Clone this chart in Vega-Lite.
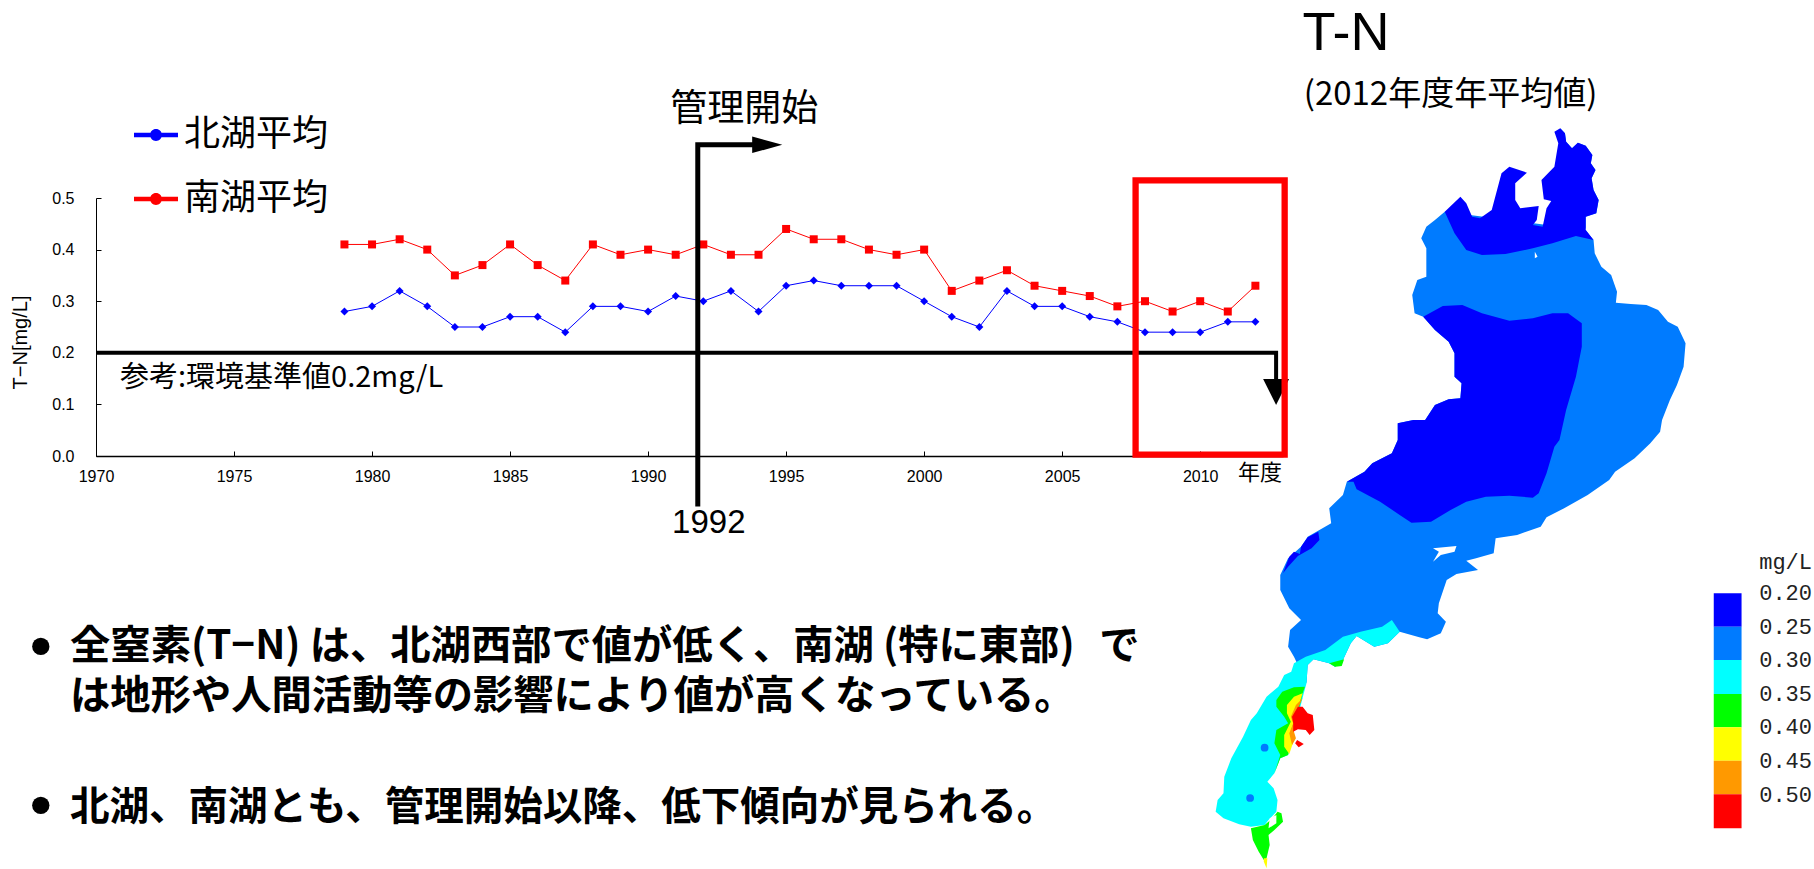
{"$schema":"https://vega.github.io/schema/vega-lite/v6.json","width":1187,"height":258,"autosize":"none","padding":{"left":96,"top":198,"right":531,"bottom":413},"background":"white","view":{"stroke":null},
"config":{"font":"Noto Sans CJK JP"},
"datasets":{
"series":[
{"year":1979,"value":0.28,"lake":"北湖平均"},{"year":1980,"value":0.29,"lake":"北湖平均"},{"year":1981,"value":0.32,"lake":"北湖平均"},{"year":1982,"value":0.29,"lake":"北湖平均"},{"year":1983,"value":0.25,"lake":"北湖平均"},{"year":1984,"value":0.25,"lake":"北湖平均"},{"year":1985,"value":0.27,"lake":"北湖平均"},{"year":1986,"value":0.27,"lake":"北湖平均"},{"year":1987,"value":0.24,"lake":"北湖平均"},{"year":1988,"value":0.29,"lake":"北湖平均"},{"year":1989,"value":0.29,"lake":"北湖平均"},{"year":1990,"value":0.28,"lake":"北湖平均"},{"year":1991,"value":0.31,"lake":"北湖平均"},{"year":1992,"value":0.30,"lake":"北湖平均"},{"year":1993,"value":0.32,"lake":"北湖平均"},{"year":1994,"value":0.28,"lake":"北湖平均"},{"year":1995,"value":0.33,"lake":"北湖平均"},{"year":1996,"value":0.34,"lake":"北湖平均"},{"year":1997,"value":0.33,"lake":"北湖平均"},{"year":1998,"value":0.33,"lake":"北湖平均"},{"year":1999,"value":0.33,"lake":"北湖平均"},{"year":2000,"value":0.30,"lake":"北湖平均"},{"year":2001,"value":0.27,"lake":"北湖平均"},{"year":2002,"value":0.25,"lake":"北湖平均"},{"year":2003,"value":0.32,"lake":"北湖平均"},{"year":2004,"value":0.29,"lake":"北湖平均"},{"year":2005,"value":0.29,"lake":"北湖平均"},{"year":2006,"value":0.27,"lake":"北湖平均"},{"year":2007,"value":0.26,"lake":"北湖平均"},{"year":2008,"value":0.24,"lake":"北湖平均"},{"year":2009,"value":0.24,"lake":"北湖平均"},{"year":2010,"value":0.24,"lake":"北湖平均"},{"year":2011,"value":0.26,"lake":"北湖平均"},{"year":2012,"value":0.26,"lake":"北湖平均"},
{"year":1979,"value":0.41,"lake":"南湖平均"},{"year":1980,"value":0.41,"lake":"南湖平均"},{"year":1981,"value":0.42,"lake":"南湖平均"},{"year":1982,"value":0.40,"lake":"南湖平均"},{"year":1983,"value":0.35,"lake":"南湖平均"},{"year":1984,"value":0.37,"lake":"南湖平均"},{"year":1985,"value":0.41,"lake":"南湖平均"},{"year":1986,"value":0.37,"lake":"南湖平均"},{"year":1987,"value":0.34,"lake":"南湖平均"},{"year":1988,"value":0.41,"lake":"南湖平均"},{"year":1989,"value":0.39,"lake":"南湖平均"},{"year":1990,"value":0.40,"lake":"南湖平均"},{"year":1991,"value":0.39,"lake":"南湖平均"},{"year":1992,"value":0.41,"lake":"南湖平均"},{"year":1993,"value":0.39,"lake":"南湖平均"},{"year":1994,"value":0.39,"lake":"南湖平均"},{"year":1995,"value":0.44,"lake":"南湖平均"},{"year":1996,"value":0.42,"lake":"南湖平均"},{"year":1997,"value":0.42,"lake":"南湖平均"},{"year":1998,"value":0.40,"lake":"南湖平均"},{"year":1999,"value":0.39,"lake":"南湖平均"},{"year":2000,"value":0.40,"lake":"南湖平均"},{"year":2001,"value":0.32,"lake":"南湖平均"},{"year":2002,"value":0.34,"lake":"南湖平均"},{"year":2003,"value":0.36,"lake":"南湖平均"},{"year":2004,"value":0.33,"lake":"南湖平均"},{"year":2005,"value":0.32,"lake":"南湖平均"},{"year":2006,"value":0.31,"lake":"南湖平均"},{"year":2007,"value":0.29,"lake":"南湖平均"},{"year":2008,"value":0.30,"lake":"南湖平均"},{"year":2009,"value":0.28,"lake":"南湖平均"},{"year":2010,"value":0.30,"lake":"南湖平均"},{"year":2011,"value":0.28,"lake":"南湖平均"},{"year":2012,"value":0.33,"lake":"南湖平均"}],
"map":[
{"p":"a","b":"0.25","u":920,"v":385},{"p":"a","b":"0.25","u":932,"v":400},{"p":"a","b":"0.25","u":935,"v":425},{"p":"a","b":"0.25","u":950,"v":445},{"p":"a","b":"0.25","u":965,"v":428},{"p":"a","b":"0.25","u":985,"v":437},{"p":"a","b":"0.25","u":1002,"v":465},{"p":"a","b":"0.25","u":998,"v":490},{"p":"a","b":"0.25","u":1010,"v":510},{"p":"a","b":"0.25","u":1000,"v":535},{"p":"a","b":"0.25","u":1005,"v":570},{"p":"a","b":"0.25","u":1018,"v":600},{"p":"a","b":"0.25","u":1012,"v":640},{"p":"a","b":"0.25","u":985,"v":650},{"p":"a","b":"0.25","u":985,"v":690},{"p":"a","b":"0.25","u":1005,"v":720},{"p":"a","b":"0.25","u":1008,"v":760},{"p":"a","b":"0.25","u":1025,"v":800},{"p":"a","b":"0.25","u":1050,"v":825},{"p":"a","b":"0.25","u":1065,"v":875},{"p":"a","b":"0.25","u":1062,"v":908},{"p":"a","b":"0.25","u":1100,"v":912},{"p":"a","b":"0.25","u":1140,"v":915},{"p":"a","b":"0.25","u":1170,"v":930},{"p":"a","b":"0.25","u":1195,"v":965},{"p":"a","b":"0.25","u":1220,"v":980},{"p":"a","b":"0.25","u":1240,"v":1030},{"p":"a","b":"0.25","u":1235,"v":1100},{"p":"a","b":"0.25","u":1218,"v":1155},{"p":"a","b":"0.25","u":1200,"v":1200},{"p":"a","b":"0.25","u":1180,"v":1260},{"p":"a","b":"0.25","u":1175,"v":1295},{"p":"a","b":"0.25","u":1150,"v":1330},{"p":"a","b":"0.25","u":1110,"v":1375},{"p":"a","b":"0.25","u":1060,"v":1415},{"p":"a","b":"0.25","u":1045,"v":1440},{"p":"a","b":"0.25","u":990,"v":1485},{"p":"a","b":"0.25","u":930,"v":1525},{"p":"a","b":"0.25","u":885,"v":1552},{"p":"a","b":"0.25","u":870,"v":1580},{"p":"a","b":"0.25","u":810,"v":1605},{"p":"a","b":"0.25","u":755,"v":1615},{"p":"a","b":"0.25","u":750,"v":1660},{"p":"a","b":"0.25","u":705,"v":1675},{"p":"a","b":"0.25","u":680,"v":1682},{"p":"a","b":"0.25","u":710,"v":1710},{"p":"a","b":"0.25","u":655,"v":1722},{"p":"a","b":"0.25","u":630,"v":1740},{"p":"a","b":"0.25","u":610,"v":1810},{"p":"a","b":"0.25","u":607,"v":1840},{"p":"a","b":"0.25","u":628,"v":1865},{"p":"a","b":"0.25","u":615,"v":1900},{"p":"a","b":"0.25","u":580,"v":1918},{"p":"a","b":"0.25","u":560,"v":1912},{"p":"a","b":"0.25","u":510,"v":1895},{"p":"a","b":"0.25","u":480,"v":1930},{"p":"a","b":"0.25","u":445,"v":1940},{"p":"a","b":"0.25","u":400,"v":1908},{"p":"a","b":"0.25","u":385,"v":1930},{"p":"a","b":"0.25","u":365,"v":1980},{"p":"a","b":"0.25","u":345,"v":2000},{"p":"a","b":"0.25","u":330,"v":1990},{"p":"a","b":"0.25","u":290,"v":1978},{"p":"a","b":"0.25","u":275,"v":1995},{"p":"a","b":"0.25","u":272,"v":2050},{"p":"a","b":"0.25","u":240,"v":1970},{"p":"a","b":"0.25","u":225,"v":1940},{"p":"a","b":"0.25","u":230,"v":1890},{"p":"a","b":"0.25","u":258,"v":1860},{"p":"a","b":"0.25","u":228,"v":1825},{"p":"a","b":"0.25","u":205,"v":1770},{"p":"a","b":"0.25","u":205,"v":1725},{"p":"a","b":"0.25","u":225,"v":1675},{"p":"a","b":"0.25","u":258,"v":1640},{"p":"a","b":"0.25","u":275,"v":1610},{"p":"a","b":"0.25","u":335,"v":1570},{"p":"a","b":"0.25","u":330,"v":1525},{"p":"a","b":"0.25","u":365,"v":1485},{"p":"a","b":"0.25","u":375,"v":1445},{"p":"a","b":"0.25","u":420,"v":1415},{"p":"a","b":"0.25","u":440,"v":1390},{"p":"a","b":"0.25","u":490,"v":1360},{"p":"a","b":"0.25","u":505,"v":1320},{"p":"a","b":"0.25","u":505,"v":1270},{"p":"a","b":"0.25","u":545,"v":1260},{"p":"a","b":"0.25","u":575,"v":1260},{"p":"a","b":"0.25","u":600,"v":1215},{"p":"a","b":"0.25","u":635,"v":1198},{"p":"a","b":"0.25","u":665,"v":1195},{"p":"a","b":"0.25","u":668,"v":1150},{"p":"a","b":"0.25","u":650,"v":1130},{"p":"a","b":"0.25","u":650,"v":1060},{"p":"a","b":"0.25","u":635,"v":1025},{"p":"a","b":"0.25","u":600,"v":990},{"p":"a","b":"0.25","u":570,"v":950},{"p":"a","b":"0.25","u":548,"v":940},{"p":"a","b":"0.25","u":542,"v":885},{"p":"a","b":"0.25","u":555,"v":840},{"p":"a","b":"0.25","u":578,"v":830},{"p":"a","b":"0.25","u":578,"v":745},{"p":"a","b":"0.25","u":565,"v":715},{"p":"a","b":"0.25","u":578,"v":680},{"p":"a","b":"0.25","u":600,"v":660},{"p":"a","b":"0.25","u":625,"v":635},{"p":"a","b":"0.25","u":985,"v":690},
{"p":"b","b":"0.20","u":625,"v":635},{"p":"b","b":"0.20","u":665,"v":590},{"p":"b","b":"0.20","u":680,"v":610},{"p":"b","b":"0.20","u":695,"v":650},{"p":"b","b":"0.20","u":715,"v":655},{"p":"b","b":"0.20","u":745,"v":630},{"p":"b","b":"0.20","u":770,"v":520},{"p":"b","b":"0.20","u":790,"v":500},{"p":"b","b":"0.20","u":835,"v":518},{"p":"b","b":"0.20","u":805,"v":550},{"p":"b","b":"0.20","u":805,"v":600},{"p":"b","b":"0.20","u":818,"v":625},{"p":"b","b":"0.20","u":865,"v":618},{"p":"b","b":"0.20","u":860,"v":660},{"p":"b","b":"0.20","u":850,"v":675},{"p":"b","b":"0.20","u":875,"v":680},{"p":"b","b":"0.20","u":885,"v":625},{"p":"b","b":"0.20","u":897,"v":603},{"p":"b","b":"0.20","u":878,"v":598},{"p":"b","b":"0.20","u":872,"v":540},{"p":"b","b":"0.20","u":905,"v":500},{"p":"b","b":"0.20","u":910,"v":465},{"p":"b","b":"0.20","u":915,"v":430},{"p":"b","b":"0.20","u":905,"v":395},{"p":"b","b":"0.20","u":920,"v":385},{"p":"b","b":"0.20","u":932,"v":400},{"p":"b","b":"0.20","u":935,"v":425},{"p":"b","b":"0.20","u":950,"v":445},{"p":"b","b":"0.20","u":965,"v":428},{"p":"b","b":"0.20","u":985,"v":437},{"p":"b","b":"0.20","u":1002,"v":465},{"p":"b","b":"0.20","u":998,"v":490},{"p":"b","b":"0.20","u":1010,"v":510},{"p":"b","b":"0.20","u":1000,"v":535},{"p":"b","b":"0.20","u":1005,"v":570},{"p":"b","b":"0.20","u":1018,"v":600},{"p":"b","b":"0.20","u":1012,"v":640},{"p":"b","b":"0.20","u":985,"v":650},{"p":"b","b":"0.20","u":985,"v":690},{"p":"b","b":"0.20","u":1005,"v":720},{"p":"b","b":"0.20","u":960,"v":708},{"p":"b","b":"0.20","u":900,"v":730},{"p":"b","b":"0.20","u":850,"v":745},{"p":"b","b":"0.20","u":780,"v":762},{"p":"b","b":"0.20","u":720,"v":765},{"p":"b","b":"0.20","u":680,"v":750},{"p":"b","b":"0.20","u":650,"v":700},
{"p":"c","b":"0.20","u":570,"v":950},{"p":"c","b":"0.20","u":620,"v":918},{"p":"c","b":"0.20","u":670,"v":915},{"p":"c","b":"0.20","u":720,"v":940},{"p":"c","b":"0.20","u":790,"v":962},{"p":"c","b":"0.20","u":850,"v":955},{"p":"c","b":"0.20","u":900,"v":940},{"p":"c","b":"0.20","u":940,"v":940},{"p":"c","b":"0.20","u":975,"v":970},{"p":"c","b":"0.20","u":975,"v":1040},{"p":"c","b":"0.20","u":960,"v":1130},{"p":"c","b":"0.20","u":935,"v":1230},{"p":"c","b":"0.20","u":918,"v":1320},{"p":"c","b":"0.20","u":905,"v":1340},{"p":"c","b":"0.20","u":885,"v":1420},{"p":"c","b":"0.20","u":865,"v":1480},{"p":"c","b":"0.20","u":850,"v":1493},{"p":"c","b":"0.20","u":790,"v":1487},{"p":"c","b":"0.20","u":730,"v":1490},{"p":"c","b":"0.20","u":680,"v":1505},{"p":"c","b":"0.20","u":640,"v":1530},{"p":"c","b":"0.20","u":590,"v":1565},{"p":"c","b":"0.20","u":540,"v":1568},{"p":"c","b":"0.20","u":510,"v":1545},{"p":"c","b":"0.20","u":460,"v":1505},{"p":"c","b":"0.20","u":400,"v":1468},{"p":"c","b":"0.20","u":392,"v":1445},{"p":"c","b":"0.20","u":375,"v":1445},{"p":"c","b":"0.20","u":420,"v":1415},{"p":"c","b":"0.20","u":440,"v":1390},{"p":"c","b":"0.20","u":490,"v":1360},{"p":"c","b":"0.20","u":505,"v":1320},{"p":"c","b":"0.20","u":505,"v":1270},{"p":"c","b":"0.20","u":545,"v":1260},{"p":"c","b":"0.20","u":575,"v":1260},{"p":"c","b":"0.20","u":600,"v":1215},{"p":"c","b":"0.20","u":635,"v":1198},{"p":"c","b":"0.20","u":665,"v":1195},{"p":"c","b":"0.20","u":668,"v":1150},{"p":"c","b":"0.20","u":650,"v":1130},{"p":"c","b":"0.20","u":650,"v":1060},{"p":"c","b":"0.20","u":635,"v":1025},{"p":"c","b":"0.20","u":600,"v":990},
{"p":"d","b":"0.20","u":212,"v":1720},{"p":"d","b":"0.20","u":228,"v":1670},{"p":"d","b":"0.20","u":240,"v":1655},{"p":"d","b":"0.20","u":255,"v":1662},{"p":"d","b":"0.20","u":258,"v":1640},{"p":"d","b":"0.20","u":275,"v":1612},{"p":"d","b":"0.20","u":302,"v":1595},{"p":"d","b":"0.20","u":305,"v":1620},{"p":"d","b":"0.20","u":285,"v":1645},{"p":"d","b":"0.20","u":250,"v":1668},{"p":"d","b":"0.20","u":225,"v":1700},
{"p":"e","b":"0.30","u":490,"v":1860},{"p":"e","b":"0.30","u":510,"v":1895},{"p":"e","b":"0.30","u":480,"v":1930},{"p":"e","b":"0.30","u":445,"v":1940},{"p":"e","b":"0.30","u":400,"v":1908},{"p":"e","b":"0.30","u":385,"v":1930},{"p":"e","b":"0.30","u":365,"v":1980},{"p":"e","b":"0.30","u":345,"v":2000},{"p":"e","b":"0.30","u":330,"v":1990},{"p":"e","b":"0.30","u":290,"v":1978},{"p":"e","b":"0.30","u":275,"v":1995},{"p":"e","b":"0.30","u":272,"v":2050},{"p":"e","b":"0.30","u":265,"v":2080},{"p":"e","b":"0.30","u":225,"v":2265},{"p":"e","b":"0.30","u":205,"v":2275},{"p":"e","b":"0.30","u":190,"v":2320},{"p":"e","b":"0.30","u":172,"v":2345},{"p":"e","b":"0.30","u":188,"v":2365},{"p":"e","b":"0.30","u":198,"v":2400},{"p":"e","b":"0.30","u":195,"v":2435},{"p":"e","b":"0.30","u":175,"v":2460},{"p":"e","b":"0.30","u":165,"v":2475},{"p":"e","b":"0.30","u":130,"v":2480},{"p":"e","b":"0.30","u":100,"v":2473},{"p":"e","b":"0.30","u":60,"v":2455},{"p":"e","b":"0.30","u":40,"v":2435},{"p":"e","b":"0.30","u":45,"v":2400},{"p":"e","b":"0.30","u":60,"v":2380},{"p":"e","b":"0.30","u":62,"v":2330},{"p":"e","b":"0.30","u":80,"v":2275},{"p":"e","b":"0.30","u":110,"v":2210},{"p":"e","b":"0.30","u":130,"v":2160},{"p":"e","b":"0.30","u":145,"v":2140},{"p":"e","b":"0.30","u":170,"v":2090},{"p":"e","b":"0.30","u":200,"v":2060},{"p":"e","b":"0.30","u":215,"v":2025},{"p":"e","b":"0.30","u":233,"v":2015},{"p":"e","b":"0.30","u":240,"v":1990},{"p":"e","b":"0.30","u":270,"v":1970},{"p":"e","b":"0.30","u":320,"v":1950},{"p":"e","b":"0.30","u":365,"v":1910},{"p":"e","b":"0.30","u":410,"v":1895},{"p":"e","b":"0.30","u":465,"v":1880},
{"p":"f","b":"0.35","u":268,"v":2060},{"p":"f","b":"0.35","u":240,"v":2062},{"p":"f","b":"0.35","u":210,"v":2075},{"p":"f","b":"0.35","u":195,"v":2100},{"p":"f","b":"0.35","u":195,"v":2120},{"p":"f","b":"0.35","u":215,"v":2150},{"p":"f","b":"0.35","u":225,"v":2170},{"p":"f","b":"0.35","u":195,"v":2190},{"p":"f","b":"0.35","u":190,"v":2230},{"p":"f","b":"0.35","u":205,"v":2265},{"p":"f","b":"0.35","u":190,"v":2320},{"p":"f","b":"0.35","u":205,"v":2275},{"p":"f","b":"0.35","u":225,"v":2265},{"p":"f","b":"0.35","u":262,"v":2080},
{"p":"g","b":"0.35","u":330,"v":1990},{"p":"g","b":"0.35","u":368,"v":1978},{"p":"g","b":"0.35","u":362,"v":1998},{"p":"g","b":"0.35","u":345,"v":2000},
{"p":"h","b":"0.35","u":130,"v":2485},{"p":"h","b":"0.35","u":165,"v":2475},{"p":"h","b":"0.35","u":185,"v":2455},{"p":"h","b":"0.35","u":198,"v":2435},{"p":"h","b":"0.35","u":208,"v":2440},{"p":"h","b":"0.35","u":212,"v":2465},{"p":"h","b":"0.35","u":190,"v":2490},{"p":"h","b":"0.35","u":175,"v":2505},{"p":"h","b":"0.35","u":178,"v":2535},{"p":"h","b":"0.35","u":170,"v":2575},{"p":"h","b":"0.35","u":163,"v":2580},{"p":"h","b":"0.35","u":150,"v":2555},{"p":"h","b":"0.35","u":135,"v":2520},
{"p":"i","b":"0.40","u":262,"v":2080},{"p":"i","b":"0.40","u":240,"v":2090},{"p":"i","b":"0.40","u":222,"v":2115},{"p":"i","b":"0.40","u":222,"v":2140},{"p":"i","b":"0.40","u":232,"v":2165},{"p":"i","b":"0.40","u":215,"v":2205},{"p":"i","b":"0.40","u":215,"v":2240},{"p":"i","b":"0.40","u":228,"v":2262},{"p":"i","b":"0.40","u":240,"v":2220},{"p":"i","b":"0.40","u":232,"v":2195},
{"p":"t","b":"0.40","u":163,"v":2575},{"p":"t","b":"0.40","u":172,"v":2575},{"p":"t","b":"0.40","u":170,"v":2605},{"p":"t","b":"0.40","u":163,"v":2585},
{"p":"j","b":"0.45","u":262,"v":2095},{"p":"j","b":"0.45","u":245,"v":2115},{"p":"j","b":"0.45","u":232,"v":2150},{"p":"j","b":"0.45","u":238,"v":2170},{"p":"j","b":"0.45","u":228,"v":2200},{"p":"j","b":"0.45","u":235,"v":2235},{"p":"j","b":"0.45","u":245,"v":2215},{"p":"j","b":"0.45","u":240,"v":2195},{"p":"j","b":"0.45","u":240,"v":2150},
{"p":"k","b":"0.50","u":262,"v":2120},{"p":"k","b":"0.50","u":275,"v":2140},{"p":"k","b":"0.50","u":288,"v":2145},{"p":"k","b":"0.50","u":292,"v":2190},{"p":"k","b":"0.50","u":280,"v":2205},{"p":"k","b":"0.50","u":270,"v":2190},{"p":"k","b":"0.50","u":250,"v":2188},{"p":"k","b":"0.50","u":238,"v":2195},{"p":"k","b":"0.50","u":238,"v":2170},{"p":"k","b":"0.50","u":235,"v":2150},{"p":"k","b":"0.50","u":250,"v":2120},
{"p":"l","b":"0.50","u":248,"v":2220},{"p":"l","b":"0.50","u":265,"v":2232},{"p":"l","b":"0.50","u":252,"v":2242},{"p":"l","b":"0.50","u":243,"v":2230},
{"p":"m","b":"land","u":178,"v":2455},{"p":"m","b":"land","u":195,"v":2445},{"p":"m","b":"land","u":195,"v":2470},{"p":"m","b":"land","u":175,"v":2485},
{"p":"n","b":"land","u":595,"v":1645},{"p":"n","b":"land","u":655,"v":1638},{"p":"n","b":"land","u":650,"v":1655},{"p":"n","b":"land","u":615,"v":1665},{"p":"n","b":"land","u":595,"v":1685},{"p":"n","b":"land","u":610,"v":1655},
{"p":"o","b":"land","u":855,"v":755},{"p":"o","b":"land","u":862,"v":770},{"p":"o","b":"land","u":855,"v":775}
],
"dots":[{"b":"0.25","u":165,"v":2243},{"b":"0.25","u":128,"v":2394}],
"bands":[{"b":"0.20","u":1312,"u2":1383,"v":1780,"v2":1880},{"b":"0.25","u":1312,"u2":1383,"v":1880,"v2":1980},{"b":"0.30","u":1312,"u2":1383,"v":1980,"v2":2082},{"b":"0.35","u":1312,"u2":1383,"v":2082,"v2":2182},{"b":"0.40","u":1312,"u2":1383,"v":2182,"v2":2282},{"b":"0.45","u":1312,"u2":1383,"v":2282,"v2":2383},{"b":"0.50","u":1312,"u2":1383,"v":2383,"v2":2485}],
"bandLabels":[{"t":"mg/L","u":1428,"v":1686},{"t":"0.20","u":1428,"v":1780},{"t":"0.25","u":1428,"v":1880},{"t":"0.30","u":1428,"v":1980},{"t":"0.35","u":1428,"v":2082},{"t":"0.40","u":1428,"v":2182},{"t":"0.45","u":1428,"v":2282},{"t":"0.50","u":1428,"v":2385}]
},
"resolve":{"scale":{"x":"independent","y":"independent","color":"independent","fill":"independent"}},
"layer":[
{"encoding":{
"x":{"field":"year","type":"quantitative","scale":{"domain":[1970,2013],"nice":false,"zero":false},"axis":{"title":null,"values":[1970,1975,1980,1985,1990,1995,2000,2005,2010],"format":"d","grid":false,"domainColor":"black","domainWidth":1.6,"tickColor":"black","tickSize":-5,"tickWidth":1,"labelFont":"Liberation Sans","labelFontSize":16,"labelColor":"black","labelPadding":17,"labelFlush":false,"labelOverlap":false}},
"y":{"field":"value","type":"quantitative","scale":{"domain":[0,0.5],"nice":false},"axis":{"title":"T−N[mg/L]","values":[0,0.1,0.2,0.3,0.4,0.5],"format":".1f","grid":false,"domainColor":"black","domainWidth":1,"tickColor":"black","tickSize":-5,"tickWidth":1,"labelFont":"Liberation Sans","labelFontSize":16,"labelColor":"black","labelPadding":27,"titleFont":"Liberation Sans","titleFontSize":20,"titleFontWeight":"normal","titleColor":"black","titleX":-66,"titleY":144,"titleAngle":-90}}},
"layer":[
{"data":{"name":"series"},"mark":{"type":"line","strokeWidth":1,"clip":false},"encoding":{"color":{"field":"lake","type":"nominal","scale":{"domain":["北湖平均","南湖平均"],"range":["#0000ff","#ff0000"]},"legend":{"title":null,"orient":"none","legendX":38,"legendY":-85,"labelFont":"Noto Sans CJK JP","labelFontSize":36,"labelColor":"black","labelOffset":6,"rowPadding":24,"symbolType":"M-1,-.1H1V.1H-1ZM-.27,0A.27,.27 0 1,1 .27,0A.27,.27 0 1,1 -.27,0Z","symbolSize":1936,"symbolStrokeWidth":0,"symbolOpacity":1,"encode":{"symbols":{"update":{"fill":{"scale":"color","field":"value"}}}}}},"order":{"value":null}}},
{"data":{"name":"series"},"mark":{"type":"point","filled":true,"opacity":1},"encoding":{"color":{"field":"lake","type":"nominal"},"shape":{"field":"lake","type":"nominal","scale":{"domain":["北湖平均","南湖平均"],"range":["diamond","square"]},"legend":null},"size":{"value":64}}},
{"data":{"values":[{"year":1970,"value":0.2},{"year":2012.75,"value":0.2},{"year":2012.75,"value":0.149}]},"mark":{"type":"line","stroke":"black","strokeWidth":4},"encoding":{"order":{"value":null}}},
{"data":{"values":[{"year":1991.8,"value":-0.098},{"year":1991.8,"value":0.603},{"year":1993.8,"value":0.603}]},"mark":{"type":"line","stroke":"black","strokeWidth":5,"strokeJoin":"miter"},"encoding":{"order":{"value":null}}},
{"data":{"values":[{"year":2012.28,"value":0.149},{"year":2013.22,"value":0.149},{"year":2012.75,"value":0.099}]},"mark":{"type":"line","fill":"black","stroke":"black","strokeWidth":0},"encoding":{"order":{"value":null}}},
{"data":{"values":[{"year":1993.77,"value":0.619},{"year":1994.86,"value":0.603},{"year":1993.77,"value":0.587}]},"mark":{"type":"line","fill":"black","stroke":"black","strokeWidth":0},"encoding":{"order":{"value":null}}},
{"data":{"values":[{"year":2007.66,"value":0.534,"year2":2013.06,"value2":0.0025}]},"mark":{"type":"rect","fill":null,"stroke":"#ff0000","strokeWidth":6.3},"encoding":{"x2":{"field":"year2"},"y2":{"field":"value2"}}},
{"data":{"values":[{"label":"管理開始","year":1993.48,"value":0.67}]},"mark":{"type":"text","font":"Noto Sans CJK JP","fontSize":37,"align":"center","baseline":"middle","color":"black"},"encoding":{"text":{"field":"label"}}},
{"data":{"values":[{"label":"1992","year":1992.2,"value":-0.13}]},"mark":{"type":"text","font":"Liberation Sans","fontSize":33,"align":"center","baseline":"middle","color":"black"},"encoding":{"text":{"field":"label"}}},
{"data":{"values":[{"label":"参考:環境基準値0.2mg/L","year":1970.87,"value":0.1515}]},"mark":{"type":"text","font":"Noto Sans CJK JP","fontSize":29,"align":"left","baseline":"middle","color":"black"},"encoding":{"text":{"field":"label"}}},
{"data":{"values":[{"label":"年度","year":2012.17,"value":-0.032}]},"mark":{"type":"text","font":"Noto Sans CJK JP","fontSize":22,"align":"center","baseline":"middle","color":"black"},"encoding":{"text":{"field":"label"}}},
{"data":{"values":[{"label":"全窒素(T−N) は、北湖西部で値が低く、南湖 (特に東部)","year":1969.06,"value":-0.37},{"label":"で","year":2006.34,"value":-0.37},{"label":"は地形や人間活動等の影響により値が高くなっている。","year":1969.06,"value":-0.467}]},"mark":{"type":"text","font":"Noto Sans CJK JP","fontWeight":"bold","fontSize":40.3,"align":"left","baseline":"middle","color":"black"},"encoding":{"text":{"field":"label"}}},
{"data":{"values":[{"label":"北湖、南湖とも、管理開始以降、低下傾向が見られる。","year":1969.06,"value":-0.682}]},"mark":{"type":"text","font":"Noto Sans CJK JP","fontWeight":"bold","fontSize":39.5,"align":"left","baseline":"middle","color":"black"},"encoding":{"text":{"field":"label"}}},
{"data":{"values":[{"year":1968.0,"value":-0.369},{"year":1968.0,"value":-0.677}]},"mark":{"type":"point","shape":"circle","filled":true,"color":"black","opacity":1,"size":300}}
]},
{"encoding":{
"x":{"field":"u","type":"quantitative","scale":{"domain":[0,1568],"range":[1104,1718],"nice":false,"zero":false},"axis":null},
"y":{"field":"v","type":"quantitative","scale":{"domain":[0,2607],"range":[-198,671],"nice":false,"zero":false},"axis":null}},
"layer":[
{"data":{"name":"map"},"mark":{"type":"line","strokeWidth":0},"encoding":{"detail":{"field":"p"},"fill":{"field":"b","type":"nominal","scale":{"domain":["0.20","0.25","0.30","0.35","0.40","0.45","0.50","land"],"range":["#0000ff","#007bff","#00ffff","#00ff00","#ffff00","#ff9900","#ff0000","#ffffff"]},"legend":null},"order":{"value":null}}},
{"data":{"name":"dots"},"mark":{"type":"point","shape":"circle","filled":true,"size":60,"opacity":1},"encoding":{"fill":{"field":"b","type":"nominal"}}},
{"data":{"name":"bands"},"mark":{"type":"rect"},"encoding":{"x2":{"field":"u2"},"y2":{"field":"v2"},"fill":{"field":"b","type":"nominal"}}},
{"data":{"name":"bandLabels"},"mark":{"type":"text","font":"Liberation Mono","fontSize":22,"align":"left","baseline":"middle","color":"#222222"},"encoding":{"text":{"field":"t"}}},
{"data":{"values":[{"t":"T-N","u":262,"v":102}]},"mark":{"type":"text","font":"Liberation Sans","fontSize":54,"align":"left","baseline":"middle","color":"black"},"encoding":{"text":{"field":"t"}}},
{"data":{"values":[{"t":"(2012年度年平均値)","u":265,"v":286}]},"mark":{"type":"text","font":"Noto Sans CJK JP","fontSize":33,"align":"left","baseline":"middle","color":"black"},"encoding":{"text":{"field":"t"}}}
]}
]}
